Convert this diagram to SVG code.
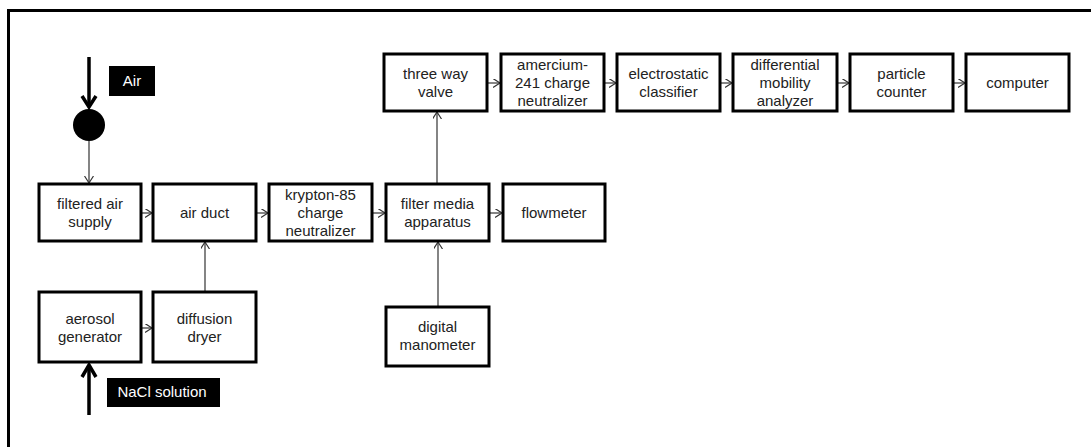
<svg xmlns="http://www.w3.org/2000/svg" width="1091" height="447" viewBox="0 0 1091 447">
<style>
.box{fill:#fff;stroke:#000;stroke-width:3}
.t{font-family:"Liberation Sans",Arial,sans-serif;font-size:15px;fill:#222;text-anchor:middle}
.lt{font-family:"Liberation Sans",Arial,sans-serif;font-size:15px;fill:#fff;text-anchor:middle}
.c{stroke:#333;stroke-width:1.2;fill:none;marker-end:url(#a)}
.thick{stroke:#000;stroke-width:3.5;fill:none}
</style>
<defs>
<marker id="a" markerUnits="userSpaceOnUse" markerWidth="10" markerHeight="10" refX="7" refY="4.5" orient="auto">
<path d="M0,0 L7,4.5 L0,9" fill="none" stroke="#333" stroke-width="1.2"/>
</marker>
</defs>
<rect width="1091" height="447" fill="#fff"/>
<path d="M8.5,447 V10.5 H1091" fill="none" stroke="#000" stroke-width="3"/>

<g id="air-input">
<line class="thick" x1="89" y1="57" x2="89" y2="107"/>
<polyline class="thick" points="82,96 89,107 96,96"/>
<circle cx="89" cy="125" r="16" fill="#000"/>
<rect x="109" y="66" width="46" height="30" fill="#000"/>
<text class="lt" x="132" y="86">Air</text>
</g>

<g id="nacl-input">
<line class="thick" x1="89" y1="415" x2="89" y2="365"/>
<polyline class="thick" points="82,377 89,365 96,377"/>
<rect x="107" y="378" width="113" height="29" fill="#000"/>
<text class="lt" x="162" y="397">NaCl solution</text>
</g>

<g id="connectors">
<line class="c" x1="89" y1="141" x2="89" y2="183"/>
<line class="c" x1="141" y1="213" x2="152" y2="213"/>
<line class="c" x1="256" y1="213" x2="268" y2="213"/>
<line class="c" x1="372" y1="213" x2="385" y2="213"/>
<line class="c" x1="489" y1="213" x2="502" y2="213"/>
<line class="c" x1="205" y1="292" x2="205" y2="242"/>
<line class="c" x1="141" y1="328" x2="152" y2="328"/>
<line class="c" x1="437" y1="184" x2="437" y2="112"/>
<line class="c" x1="438" y1="307" x2="438" y2="242"/>
<line class="c" x1="487" y1="83" x2="500" y2="83"/>
<line class="c" x1="604" y1="83" x2="616" y2="83"/>
<line class="c" x1="720" y1="83" x2="732" y2="83"/>
<line class="c" x1="837" y1="83" x2="849" y2="83"/>
<line class="c" x1="953" y1="83" x2="965" y2="83"/>
</g>

<g id="filtered-air-supply"><rect class="box" x="39" y="184" width="102" height="57"/>
<text class="t" x="90" y="209">filtered air</text><text class="t" x="90" y="227">supply</text></g>
<g id="air-duct"><rect class="box" x="153" y="184" width="103" height="57"/>
<text class="t" x="204.5" y="218">air duct</text></g>
<g id="krypton-85"><rect class="box" x="269" y="184" width="103" height="57"/>
<text class="t" x="320.5" y="200">krypton-85</text><text class="t" x="320.5" y="218">charge</text><text class="t" x="320.5" y="236">neutralizer</text></g>
<g id="filter-media-apparatus"><rect class="box" x="386" y="184" width="103" height="57"/>
<text class="t" x="437.5" y="209">filter media</text><text class="t" x="437.5" y="227">apparatus</text></g>
<g id="flowmeter"><rect class="box" x="503" y="184" width="102" height="57"/>
<text class="t" x="554" y="218">flowmeter</text></g>

<g id="aerosol-generator"><rect class="box" x="39" y="292" width="102" height="70"/>
<text class="t" x="90" y="324">aerosol</text><text class="t" x="90" y="342">generator</text></g>
<g id="diffusion-dryer"><rect class="box" x="153" y="292" width="103" height="70"/>
<text class="t" x="204.5" y="324">diffusion</text><text class="t" x="204.5" y="342">dryer</text></g>
<g id="digital-manometer"><rect class="box" x="386" y="307" width="103" height="59"/>
<text class="t" x="437.5" y="332">digital</text><text class="t" x="437.5" y="350">manometer</text></g>

<g id="three-way-valve"><rect class="box" x="384" y="54" width="103" height="57"/>
<text class="t" x="435.5" y="79">three way</text><text class="t" x="435.5" y="97">valve</text></g>
<g id="amercium-241"><rect class="box" x="501" y="54" width="103" height="57"/>
<text class="t" x="552.5" y="70">amercium-</text><text class="t" x="552.5" y="88">241 charge</text><text class="t" x="552.5" y="106">neutralizer</text></g>
<g id="electrostatic-classifier"><rect class="box" x="617" y="54" width="103" height="57"/>
<text class="t" x="668.5" y="79">electrostatic</text><text class="t" x="668.5" y="97">classifier</text></g>
<g id="differential-mobility-analyzer"><rect class="box" x="733" y="54" width="104" height="57"/>
<text class="t" x="785" y="70">differential</text><text class="t" x="785" y="88">mobility</text><text class="t" x="785" y="106">analyzer</text></g>
<g id="particle-counter"><rect class="box" x="850" y="54" width="103" height="57"/>
<text class="t" x="901.5" y="79">particle</text><text class="t" x="901.5" y="97">counter</text></g>
<g id="computer"><rect class="box" x="966" y="54" width="103" height="57"/>
<text class="t" x="1017.5" y="88">computer</text></g>
</svg>
